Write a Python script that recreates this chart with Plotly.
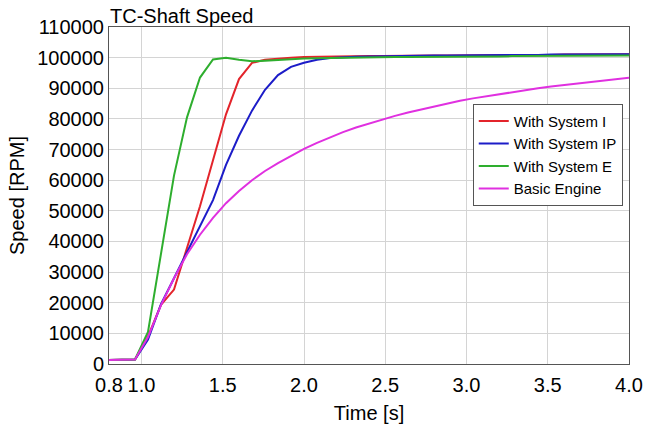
import plotly.graph_objects as go

time_s = [0.80, 0.88, 0.96, 1.04, 1.12, 1.20, 1.28, 1.36, 1.44, 1.52, 1.60, 1.68, 1.76, 1.84,
          1.92, 2.00, 2.08, 2.16, 2.24, 2.32, 2.40, 2.48, 2.56, 2.64, 2.72, 2.80, 2.88, 2.96,
          3.04, 3.12, 3.20, 3.28, 3.36, 3.44, 3.52, 3.60, 3.68, 3.76, 3.84, 3.92, 4.00]

system_i = [1300, 1300, 1500, 9000, 19300, 24300, 37500, 51500, 66500, 81500, 93000, 98300,
            99300, 99700, 100000, 100200, 100300, 100400, 100400, 100500, 100500, 100500,
            100600, 100600, 100600, 100700, 100700, 100700, 100800, 100800, 100800, 100900,
            100900, 100900, 100900, 101000, 101000, 101000, 101000, 101100, 101100]

system_ip = [1300, 1300, 1500, 8000, 19500, 28000, 36500, 45500, 53500, 65000, 74500, 82700,
             89500, 94300, 97000, 98300, 99300, 99900, 100200, 100300, 100400, 100500, 100500,
             100600, 100600, 100700, 100700, 100700, 100800, 100800, 100800, 100900, 100900,
             100900, 101000, 101000, 101000, 101000, 101100, 101100, 101100]

system_e = [1300, 1300, 1500, 10500, 36000, 61500, 80500, 93500, 99400, 100000, 99300, 98800,
            99000, 99300, 99500, 99700, 99800, 99900, 100000, 100000, 100100, 100100, 100200,
            100200, 100200, 100300, 100300, 100300, 100400, 100400, 100400, 100500, 100500,
            100500, 100600, 100600, 100600, 100600, 100700, 100700, 100700]

basic_engine = [1300, 1300, 1500, 8800, 19200, 28000, 35800, 42200, 47700, 52500, 56500, 60000,
                63000, 65600, 68000, 70200, 72200, 74000, 75700, 77200, 78500, 79800, 81000,
                82100, 83100, 84100, 85000, 85900, 86700, 87400, 88100, 88800, 89400, 90000,
                90600, 91100, 91600, 92100, 92600, 93000, 93400]

series_names = ["With System I", "With System IP", "With System E", "Basic Engine"]
series_values = [system_i, system_ip, system_e, basic_engine]
series_colors = ["#e3242b", "#1c1cc8", "#2eae2e", "#e030e0"]

x_tick_vals = [0.8, 1.0, 1.5, 2.0, 2.5, 3.0, 3.5, 4.0]
x_tick_text = ["0.8", "1.0", "1.5", "2.0", "2.5", "3.0", "3.5", "4.0"]
y_tick_vals = [0, 10000, 20000, 30000, 40000, 50000, 60000, 70000, 80000, 90000, 100000, 110000]
y_tick_text = ["0", "10000", "20000", "30000", "40000", "50000", "60000", "70000", "80000",
               "90000", "100000", "110000"]

FONT = "Liberation Sans, Arial, sans-serif"

fig = go.Figure()
for name, vals, col in zip(series_names, series_values, series_colors):
    fig.add_trace(go.Scatter(x=time_s, y=vals, mode="lines", name=name,
                             line=dict(color=col, width=2)))

fig.update_layout(
    width=646, height=430,
    margin=dict(l=109, r=17, t=27, b=66, autoexpand=False),
    paper_bgcolor="white", plot_bgcolor="white",
    font=dict(family=FONT, size=20, color="black"),
    title=dict(text="TC-Shaft Speed", x=110 / 646, xanchor="left", xref="container",
               y=1 - 16 / 430, yanchor="middle", yref="container",
               font=dict(family=FONT, size=20, color="black")),
    showlegend=True,
    legend=dict(x=0.988, xanchor="right", y=0.772, yanchor="top",
                bgcolor="white", bordercolor="#555555", borderwidth=1,
                font=dict(family=FONT, size=15, color="black"),
                tracegroupgap=0, itemwidth=30),
    xaxis=dict(range=[0.8, 4.0], tickvals=x_tick_vals, ticktext=x_tick_text,
               showgrid=True, gridcolor="#d4d4d4", gridwidth=1,
               showline=True, linecolor="#555555", linewidth=1, mirror=True,
               ticks="", zeroline=False, tickfont=dict(size=20), automargin=False,
               ticklabelstandoff=3,
               title=dict(text="Time [s]", standoff=10, font=dict(size=20))),
    yaxis=dict(range=[0, 110000], tickvals=y_tick_vals, ticktext=y_tick_text,
               showgrid=True, gridcolor="#d4d4d4", gridwidth=1,
               showline=True, linecolor="#555555", linewidth=1, mirror=True,
               ticks="", zeroline=False, tickfont=dict(size=20), automargin=False,
               title=dict(text="Speed [RPM]", standoff=7, font=dict(size=20))),
)

fig.write_html("out.html")
